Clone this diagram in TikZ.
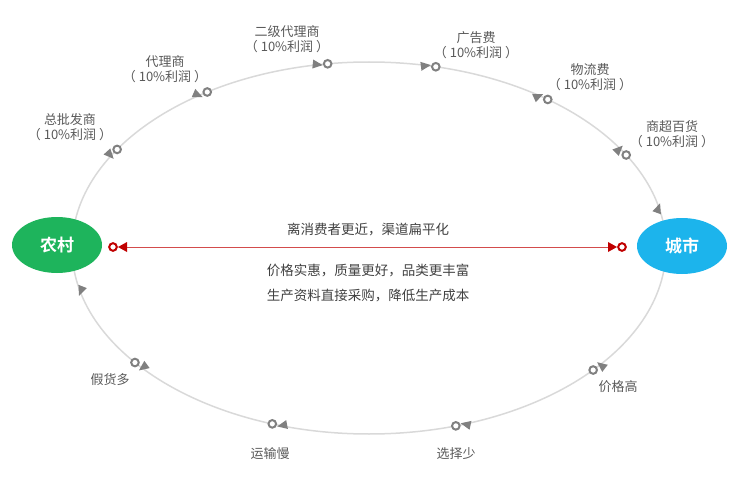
\documentclass[tikz,border=0pt]{standalone}
\usepackage{fontspec}
\setmainfont{Noto Sans CJK SC}
\newfontfamily\cjkbold{Noto Sans CJK SC Bold}
\usetikzlibrary{calc,shapes.geometric}
\definecolor{ring}{HTML}{D9D9D9}
\definecolor{mk}{HTML}{808080}
\definecolor{txt}{HTML}{595959}
\definecolor{ctxt}{HTML}{404040}
\definecolor{grn}{HTML}{1EB45C}
\definecolor{blu}{HTML}{1CB4EC}
\definecolor{rd}{HTML}{C00000}
\tikzset{
  lbl/.style={text=txt,font=\fontsize{13}{15}\selectfont,inner sep=1pt,align=center},
  ctr/.style={text=ctxt,font=\fontsize{13.5}{15}\selectfont,inner sep=1pt},
  bigell/.style={ellipse,minimum width=90pt,minimum height=56pt,text=white,font=\cjkbold\fontsize{17}{19}\selectfont},
  ring circ/.style={draw=mk,line width=2pt},
}
\begin{document}
\begin{tikzpicture}[x=1pt,y=-1pt]
\useasboundingbox (0,0) rectangle (740,487);
\coordinate (C) at (369,248);
\draw[ring,line width=1.5pt] (C) ellipse [x radius=297pt, y radius=186pt];
\foreach \t/\c in {148/1,123/1,98/1,77/1,53/1,30/1,10/0,-41/1,-73/1,-109/1,-142/1,-169/0}{
  \pgfmathsetmacro\spd{sqrt((2.97*sin(\t))^2+(1.86*cos(\t))^2)*1.745329}
  \pgfmathsetmacro\dl{\t+9/\spd}
  \pgfmathsetmacro\ang{atan2(1.86*cos(\dl),2.97*sin(\dl))}
  \pgfmathsetmacro\px{369+297*cos(\dl)}
  \pgfmathsetmacro\py{248-186*sin(\dl)}
  \pgfmathsetmacro\qx{369+297*cos(\t)}
  \pgfmathsetmacro\qy{248-186*sin(\t)}
  \coordinate (P) at (\px,\py);
  \coordinate (Q) at (\qx,\qy);
  \ifnum\c=1
    \draw[ring circ,fill=white] (Q) circle (3.8pt);
  \fi
  \fill[mk,shift={(P)},rotate=\ang] (4,0) -- (-6,4.5) -- (-6,-4.5) -- cycle;
}
\node[bigell,fill=grn] (nc) at (57,245) {农村};
\node[bigell,fill=blu] (cs) at (682,246) {城市};
\coordinate (La) at (113,247);
\coordinate (Ra) at (622,247);
\draw[rd!70,line width=0.7pt] ($(La)+(12,0)$) -- ($(Ra)+(-12,0)$);
\foreach \p/\s in {La/1,Ra/-1}{
  \fill[rd,shift={(\p)}] (\s*5,0) -- (\s*14,-5) -- (\s*14,5) -- cycle;
  \draw[rd,line width=2pt,fill=white] (\p) circle (3.8pt);
}
\node[lbl] at (70,127) {总批发商\\（ 10\%利润 ）};
\node[lbl] at (165,69) {代理商\\（ 10\%利润 ）};
\node[lbl] at (287,39) {二级代理商\\（ 10\%利润 ）};
\node[lbl] at (476,45) {广告费\\（ 10\%利润 ）};
\node[lbl] at (590,77) {物流费\\（ 10\%利润 ）};
\node[lbl] at (672,134) {商超百货\\（ 10\%利润 ）};
\node[lbl] at (618,387) {价格高};
\node[lbl] at (456,454) {选择少};
\node[lbl] at (270,454) {运输慢};
\node[lbl] at (110,380) {假货多};
\node[ctr] at (368,230) {离消费者更近，渠道扁平化};
\node[ctr] at (368,270) {价格实惠，质量更好，品类更丰富};
\node[ctr] at (368,296) {生产资料直接采购，降低生产成本};
\end{tikzpicture}
\end{document}
